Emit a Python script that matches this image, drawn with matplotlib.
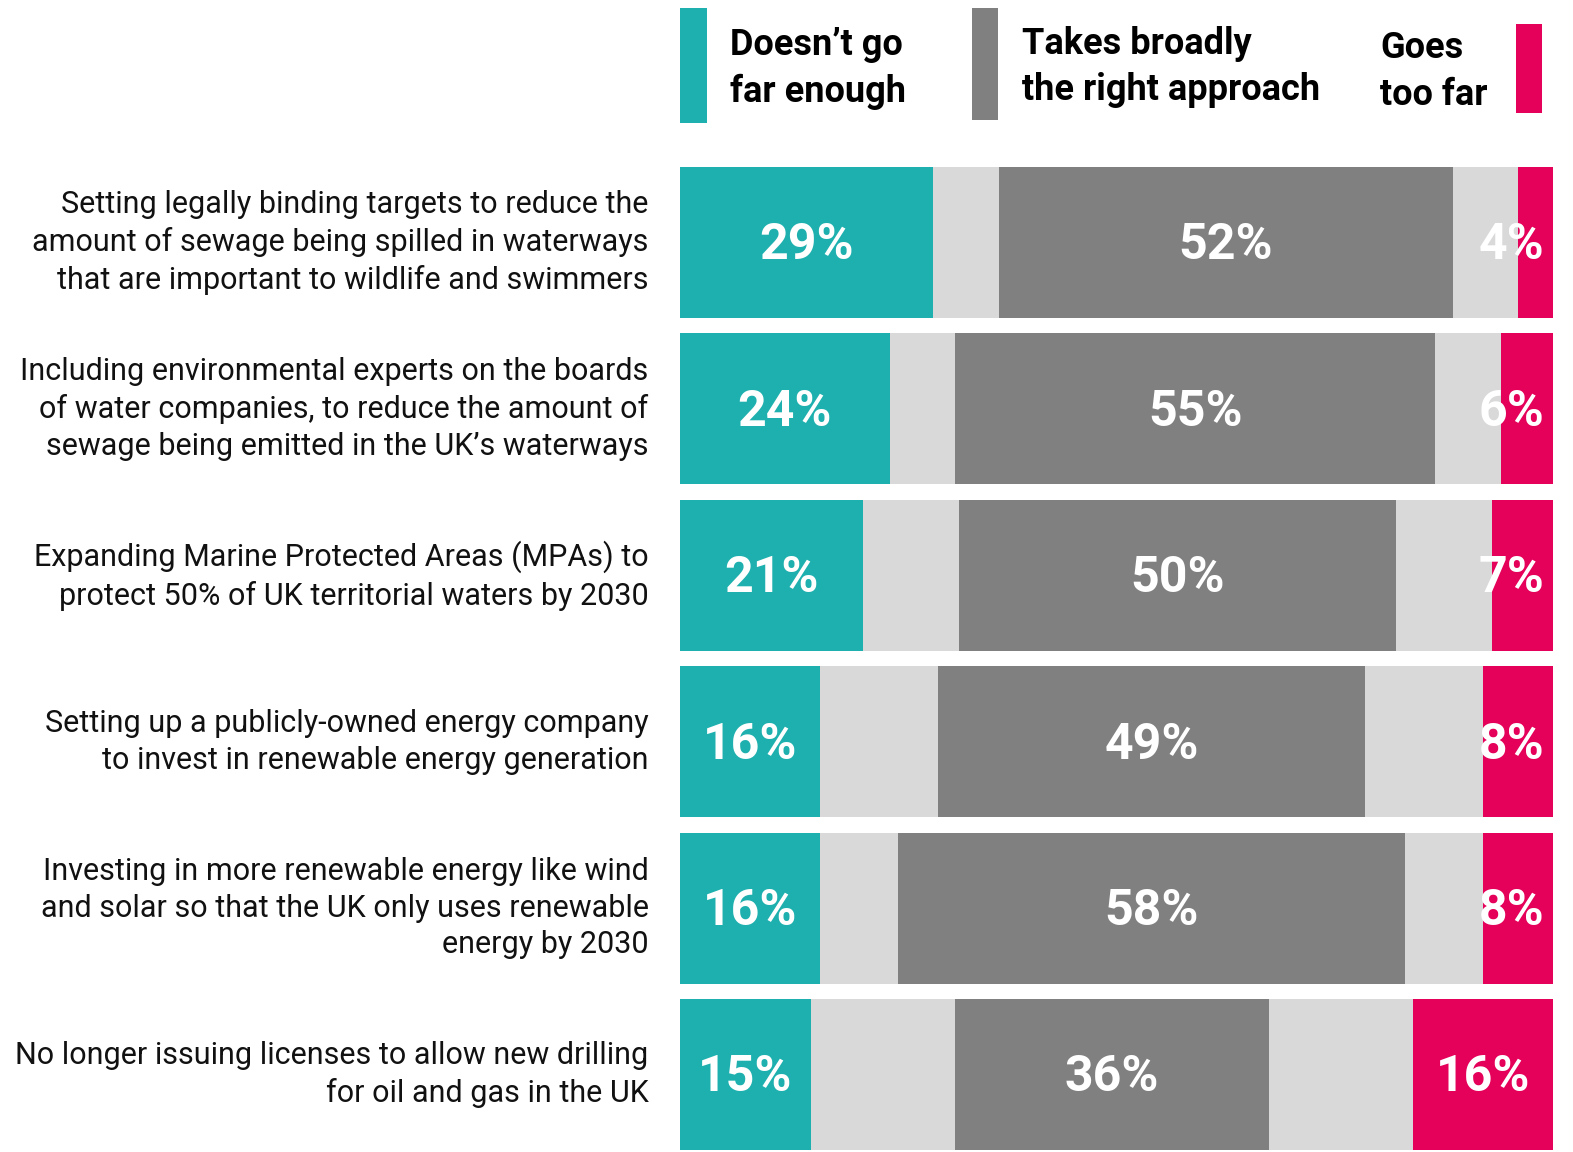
import matplotlib.pyplot as plt
from matplotlib.patches import Rectangle

statements = [
    'Setting legally binding targets to reduce the\namount of sewage being spilled in waterways\nthat are important to wildlife and swimmers',
    'Including environmental experts on the boards\nof water companies, to reduce the amount of\nsewage being emitted in the UK\u2019s waterways',
    'Expanding Marine Protected Areas (MPAs) to\nprotect 50% of UK territorial waters by 2030',
    'Setting up a publicly-owned energy company\nto invest in renewable energy generation',
    'Investing in more renewable energy like wind\nand solar so that the UK only uses renewable\nenergy by 2030',
    'No longer issuing licenses to allow new drilling\nfor oil and gas in the UK',
]
not_far_enough = [29, 24, 21, 16, 16, 15]
right_approach = [52, 55, 50, 49, 58, 36]
too_far = [4, 6, 7, 8, 8, 16]
dont_know = [15, 15, 22, 27, 18, 33]

TEAL = '#1EB0AE'
GREY = '#808080'
LIGHT = '#D9D9D9'
PINK = '#E5005A'
FONT = 'Roboto'

W, H = 1573, 1152
fig = plt.figure(figsize=(W / 100, H / 100), dpi=100)
ax = fig.add_axes([680 / W, 0, (1553 - 680) / W, 1 - 167 / H])

bh = 0.907
y = list(range(len(statements)))
for i in y:
    half = dont_know[i] / 2
    segs = [(not_far_enough[i], TEAL), (half, LIGHT), (right_approach[i], GREY),
            (half, LIGHT), (too_far[i], PINK)]
    left = 0
    for w, c in segs:
        ax.barh(i, w, left=left, height=bh, color=c, linewidth=0)
        left += w
    # value labels
    tk = dict(color='white', fontsize=36, fontweight='bold', family=FONT,
              ha='center', va='center')
    ax.text(not_far_enough[i] / 2, i + 0.02, f'{not_far_enough[i]}%', **tk)
    gx = not_far_enough[i] + half + right_approach[i] / 2
    ax.text(gx, i + 0.02, f'{right_approach[i]}%', **tk)
    px = 100 - too_far[i] / 2
    ax.text(min(px, 95.2), i + 0.02, f'{too_far[i]}%', **tk)
    ax.text(-3.6, i, statements[i], ha='right', va='center', fontsize=22,
            family=FONT, color='#111111', linespacing=1.33)

ax.set_xlim(0, 100)
ax.set_ylim(5.4655, -0.4535)
ax.axis('off')

# legend
legend = [
    (680, 8, 27, 115, TEAL, 730, 'Doesn\u2019t go\nfar enough'),
    (972, 8, 26, 112, GREY, 1022, 'Takes broadly\nthe right approach'),
    (1516, 24, 26, 89, PINK, 1380, 'Goes\ntoo far'),
]
for x0, y0, w, h, c, tx, label in legend:
    fig.add_artist(Rectangle((x0 / W, 1 - (y0 + h) / H), w / W, h / H,
                             transform=fig.transFigure, color=c, linewidth=0))
    fig.text(tx / W, 1 - (y0 + h / 2 + 3) / H, label, ha='left', va='center',
             fontsize=26, fontweight='bold', family=FONT, color='black',
             linespacing=1.38)

fig.savefig('out.png', dpi=100)
